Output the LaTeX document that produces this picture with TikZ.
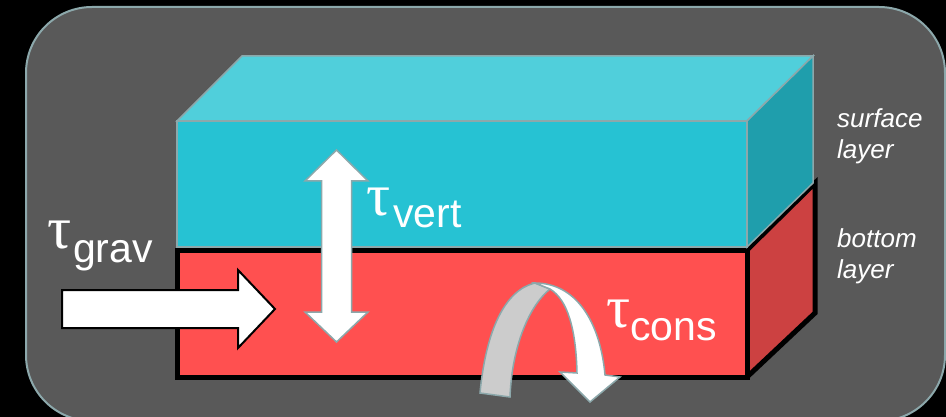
\documentclass[tikz,border=0pt]{standalone}
\usepackage{fontspec}
\setmainfont{Liberation Sans}
\newfontfamily\taufont{Liberation Serif}
\definecolor{bggray}{HTML}{595959}
\definecolor{edgegray}{HTML}{8CA8AB}
\definecolor{cyanfront}{HTML}{26C2D3}
\definecolor{cyantop}{HTML}{50CFDB}
\definecolor{cyanside}{HTML}{1F9EAC}
\definecolor{redfront}{HTML}{FF5050}
\definecolor{redside}{HTML}{CC4141}
\definecolor{ribbongray}{HTML}{CCCCCC}
\tikzset{
  cyanface/.style={draw=edgegray, line width=1.5pt, line join=miter},
  redface/.style={draw=black, line width=5pt, line join=miter},
  whitearrow/.style={fill=white, draw=edgegray, line width=1.5pt, line join=miter},
  blackarrow/.style={fill=white, draw=black, line width=2pt, line join=miter},
  taulabel/.style={text=white, inner sep=0pt, anchor=base west, font=\taufont\fontsize{60}{60}\selectfont},
  sublabel/.style={text=white, inner sep=0pt, anchor=base west, font=\fontsize{41}{41}\selectfont},
  layerlabel/.style={text=white, inner sep=0pt, anchor=north west, align=left, font=\itshape\fontsize{26}{31}\selectfont}
}
\begin{document}
\begin{tikzpicture}[x=1pt,y=-1pt]
\useasboundingbox (0,0) rectangle (946,417);
\fill[black] (0,0) rectangle (946,417);
\draw[rounded corners=66pt, fill=bggray, draw=edgegray, line width=2pt] (26,7) rectangle (945,421);

% bottom (red) layer
\fill[redfront] (177,250) rectangle (747,377);
\fill[redside] (747,250) -- (815,183) -- (815,313) -- (747,377) -- cycle;
\draw[redface] (177,250) rectangle (747,377);
\draw[redface] (747,250) -- (815,183) -- (815,313) -- (747,377);

% surface (cyan) layer
\filldraw[cyanface, fill=cyanfront] (177,121) rectangle (747,247);
\filldraw[cyanface, fill=cyantop] (177,121) -- (242,56) -- (813,56) -- (747,121) -- cycle;
\filldraw[cyanface, fill=cyanside] (747,121) -- (813,56) -- (813,183) -- (747,247) -- cycle;

% vertical double arrow
\draw[whitearrow] (336.5,150) -- (368,181) -- (351.5,181) -- (351.5,312) -- (368,312)
  -- (336.5,342) -- (305,312) -- (321.5,312) -- (321.5,181) -- (305,181) -- cycle;

% horizontal arrow
\draw[blackarrow] (62,290) -- (238,290) -- (238,270) -- (275,309) -- (238,348)
  -- (238,328) -- (62,328) -- cycle;

% curved ribbon arrow
\draw[whitearrow, fill=ribbongray] (480,393) .. controls (486,330) and (505,290) .. (535,283)
  -- (550,289) .. controls (530,305) and (512,345) .. (510,397) -- cycle;
\draw[whitearrow] (535,283) .. controls (575,283) and (600,320) .. (605,375)
  -- (620,377) -- (590,402) -- (560,372) -- (577,373)
  .. controls (576,330) and (568,300) .. (550,289) -- cycle;

% labels
\node[taulabel] (tauvert) at (366,215) {τ};
\node[sublabel] (subvert) at (393,228) {vert};
\node[taulabel] (taugrav) at (47,248) {τ};
\node[sublabel] (subgrav) at (73,262) {grav};
\node[taulabel] (taucons) at (606,327) {τ};
\node[sublabel] (subcons) at (630,340) {cons};

\node[layerlabel] (surf) at (837,108) {surface\\layer};
\node[layerlabel] (bott) at (837,228) {bottom\\layer};
\end{tikzpicture}
\end{document}
